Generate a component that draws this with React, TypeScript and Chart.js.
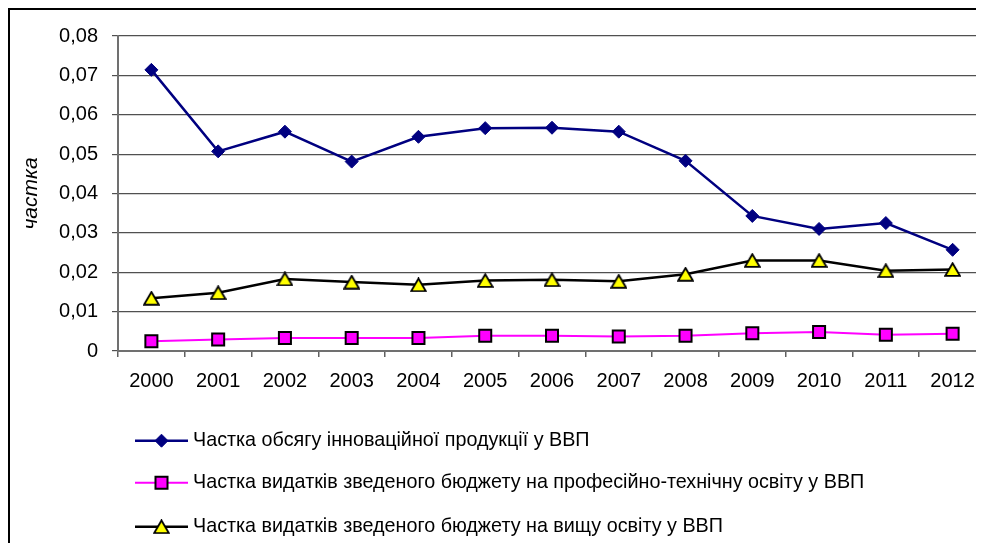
import React, { useEffect, useRef } from 'react';
import { Chart, registerables } from 'chart.js';

Chart.register(...registerables);

const years = ['2000', '2001', '2002', '2003', '2004', '2005', '2006', '2007', '2008', '2009', '2010', '2011', '2012'];
const innovationShare = [0.0714, 0.0507, 0.0557, 0.0481, 0.0544, 0.0566, 0.0567, 0.0557, 0.0483, 0.0343, 0.031, 0.0325, 0.0257];
const vocationalShare = [0.0025, 0.0029, 0.0033, 0.0033, 0.0033, 0.0039, 0.0039, 0.0037, 0.0039, 0.0045, 0.0048, 0.0041, 0.0044];
const higherEdShare = [0.0134, 0.0148, 0.0183, 0.0175, 0.0168, 0.0179, 0.0181, 0.0177, 0.0195, 0.023, 0.023, 0.0204, 0.0207];
const seriesLabels = [
  'Частка обсягу інноваційної продукції у ВВП',
  'Частка видатків зведеного бюджету на професійно-технічну освіту у ВВП',
  'Частка видатків зведеного бюджету на вищу освіту у ВВП',
];
const yAxisTitle = 'частка';
const yMin = 0;
const yMax = 0.08;
const yStep = 0.01;

const FONT = '"Liberation Sans Narrow", "Arial Narrow", "Liberation Sans", Arial, sans-serif';

function makeTriangle(): HTMLCanvasElement {
  const c = document.createElement('canvas');
  c.width = 17;
  c.height = 15;
  const g = c.getContext('2d')!;
  g.beginPath();
  g.moveTo(8.5, 1.2);
  g.lineTo(15.8, 13.8);
  g.lineTo(1.2, 13.8);
  g.closePath();
  g.fillStyle = '#FFFF00';
  g.fill();
  g.lineWidth = 1.8;
  g.strokeStyle = '#000000';
  g.lineJoin = 'miter';
  g.stroke();
  return c;
}

const legendPlugin = {
  id: 'lineMarkerLegend',
  afterDraw(chart: any) {
    const ctx = chart.ctx as CanvasRenderingContext2D;
    const base = chart.chartArea.bottom;
    const offsets = [89.7, 131.7, 175.7];
    const x0 = 125;
    const x1 = 178;
    const mx = (x0 + x1) / 2;
    chart.data.datasets.forEach((ds: any, i: number) => {
      const y = base + offsets[i];
      ctx.save();
      ctx.beginPath();
      ctx.strokeStyle = ds.borderColor;
      ctx.lineWidth = ds.borderWidth;
      ctx.moveTo(x0, y);
      ctx.lineTo(x1, y);
      ctx.stroke();
      if (ds.pointStyle === 'rectRot') {
        const r = ds.pointRadius;
        ctx.beginPath();
        ctx.moveTo(mx - r, y);
        ctx.lineTo(mx, y - r);
        ctx.lineTo(mx + r, y);
        ctx.lineTo(mx, y + r);
        ctx.closePath();
        ctx.fillStyle = ds.pointBackgroundColor;
        ctx.fill();
        ctx.lineWidth = ds.pointBorderWidth;
        ctx.strokeStyle = ds.pointBorderColor;
        ctx.stroke();
      } else if (ds.pointStyle === 'rect') {
        const s = Math.SQRT1_2 * ds.pointRadius;
        ctx.beginPath();
        ctx.rect(mx - s, y - s, 2 * s, 2 * s);
        ctx.fillStyle = ds.pointBackgroundColor;
        ctx.fill();
        ctx.lineWidth = ds.pointBorderWidth;
        ctx.strokeStyle = ds.pointBorderColor;
        ctx.stroke();
      } else if (ds.pointStyle instanceof HTMLCanvasElement) {
        const im = ds.pointStyle as HTMLCanvasElement;
        ctx.drawImage(im, mx - im.width / 2, y - im.height / 2);
      }
      ctx.translate(x1 + 5, y);
      ctx.scale(0.94, 1);
      ctx.fillStyle = '#000';
      ctx.font = `21px ${FONT}`;
      ctx.textBaseline = 'middle';
      ctx.textAlign = 'left';
      ctx.fillText(ds.label, 0, 0);
      ctx.restore();
    });
  },
};

export default function App() {
  const ref = useRef<HTMLCanvasElement | null>(null);

  useEffect(() => {
    document.documentElement.style.overflow = 'hidden';
    document.body.style.overflow = 'hidden';
    const canvas = ref.current!;
    const tri = makeTriangle();
    const chart = new Chart(canvas, {
      type: 'line',
      data: {
        labels: years,
        datasets: [
          {
            label: seriesLabels[0],
            data: innovationShare,
            borderColor: '#000080',
            borderWidth: 2.5,
            pointStyle: 'rectRot',
            pointRadius: 6.5,
            pointBackgroundColor: '#000080',
            pointBorderColor: '#000080',
            pointBorderWidth: 1,
            tension: 0,
          },
          {
            label: seriesLabels[1],
            data: vocationalShare,
            borderColor: '#FF00FF',
            borderWidth: 2,
            pointStyle: 'rect',
            pointRadius: 8.5,
            pointBackgroundColor: '#FF00FF',
            pointBorderColor: '#000000',
            pointBorderWidth: 2,
            tension: 0,
          },
          {
            label: seriesLabels[2],
            data: higherEdShare,
            borderColor: '#000000',
            borderWidth: 2.5,
            pointStyle: tri as any,
            pointRadius: 8,
            pointBackgroundColor: '#FFFF00',
            pointBorderColor: '#000000',
            pointBorderWidth: 1.8,
            tension: 0,
          },
        ],
      },
      options: {
        animation: false,
        responsive: false,
        maintainAspectRatio: false,
        events: [],
        layout: { padding: { left: 0, top: 16, right: 24, bottom: 169 } },
        plugins: {
          legend: { display: false },
          tooltip: { enabled: false },
          title: { display: false },
        },
        scales: {
          x: {
            type: 'category',
            offset: true,
            grid: {
              offset: true,
              drawOnChartArea: false,
              drawTicks: true,
              tickLength: 6,
              color: '#606060',
              lineWidth: 1.5,
            },
            border: { display: true, color: '#707070', width: 2 },
            ticks: {
              color: '#000',
              font: { family: FONT, size: 20 },
              padding: 12,
              maxRotation: 0,
              autoSkip: false,
            },
            afterFit: (scale: any) => {
              scale.height = 50;
            },
          },
          y: {
            min: yMin,
            max: yMax,
            grid: {
              color: '#505050',
              lineWidth: 1.2,
              tickLength: 6,
              drawTicks: true,
            },
            border: { display: true, color: '#707070', width: 2 },
            ticks: {
              stepSize: yStep,
              color: '#000',
              font: { family: FONT, size: 20 },
              padding: 14,
              callback: (v: any) => {
                const n = Math.round(Number(v) * 100) / 100;
                return n === 0 ? '0' : n.toFixed(2).replace('.', ',');
              },
            },
            title: {
              display: true,
              text: yAxisTitle,
              color: '#000',
              font: { family: FONT, size: 21, style: 'italic' },
              padding: { top: 9, bottom: 0 },
            },
            afterFit: (scale: any) => {
              scale.width = 108;
            },
          },
        },
      },
      plugins: [legendPlugin],
    });
    return () => chart.destroy();
  }, []);

  return (
    <div
      style={{
        width: 976,
        height: 535,
        overflow: 'hidden',
        borderLeft: '2px solid #000',
        borderTop: '2px solid #000',
        boxSizing: 'border-box',
        position: 'relative',
        background: '#fff',
      }}
    >
      <canvas ref={ref} width={1000} height={560} style={{ display: 'block' }} />
    </div>
  );
}
